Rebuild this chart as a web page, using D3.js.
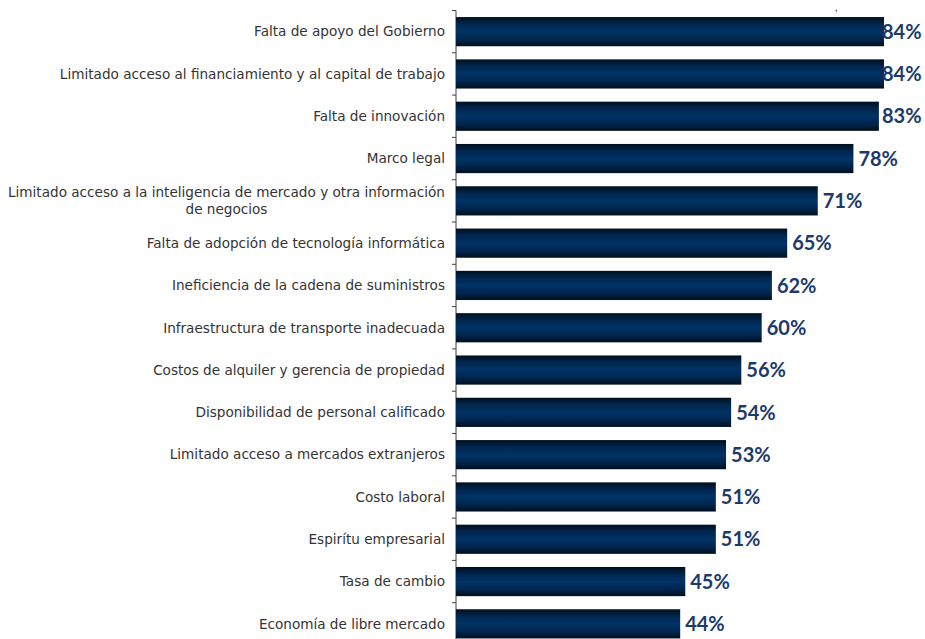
<!DOCTYPE html>
<html>
<head>
<meta charset="utf-8">
<script src="https://cdn.jsdelivr.net/npm/d3@7"></script>
<style>
  body { margin: 0; background: white; }
  svg { display: block; }
</style>
</head>
<body>
<svg id="plot"></svg>
<script>
// Data
const categories = [
  "Falta de apoyo del Gobierno",
  "Limitado acceso al financiamiento y al capital de trabajo",
  "Falta de innovación",
  "Marco legal",
  "Limitado acceso a la inteligencia de mercado y otra información|de negocios",
  "Falta de adopción de tecnología informática",
  "Ineficiencia de la cadena de suministros",
  "Infraestructura de transporte inadecuada",
  "Costos de alquiler y gerencia de propiedad",
  "Disponibilidad de personal calificado",
  "Limitado acceso a mercados extranjeros",
  "Costo laboral",
  "Espirítu empresarial",
  "Tasa de cambio",
  "Economía de libre mercado"
];
const values = [84, 84, 83, 78, 71, 65, 62, 60, 56, 54, 53, 51, 51, 45, 44];

const data = categories.map((c, i) => ({ cat: c, value: values[i] }));

let width = 925, height = 639;
let margin = { top: 10.5, left: 456, right: 0 };

let svg = d3.select('#plot')
  .attr('width', width)
  .attr('height', height)
  .style('background', 'white');

// gradient for the bars (dark edges, lighter middle)
let grad = svg.append('defs').append('linearGradient')
  .attr('id', 'barGrad')
  .attr('x1', 0).attr('y1', 0).attr('x2', 0).attr('y2', 1);
grad.append('stop').attr('offset', '0%').attr('stop-color', '#00101f');
grad.append('stop').attr('offset', '25%').attr('stop-color', '#01264f');
grad.append('stop').attr('offset', '50%').attr('stop-color', '#003366');
grad.append('stop').attr('offset', '75%').attr('stop-color', '#01264f');
grad.append('stop').attr('offset', '100%').attr('stop-color', '#00101f');

let step = 42.3;
let yScale = d3.scaleBand()
  .domain(categories)
  .range([margin.top, margin.top + step * categories.length])
  .paddingInner(0.31)
  .paddingOuter(0.155);

let xScale = d3.scaleLinear()
  .domain([0, 100])
  .range([margin.left, margin.left + 509.5]);

// axis line with ticks at band boundaries
let yAxis = svg.append('g');
yAxis.append('line')
  .attr('x1', margin.left).attr('x2', margin.left)
  .attr('y1', margin.top).attr('y2', height)
  .attr('stroke', '#404040').attr('stroke-width', 1);
yAxis.selectAll('.tick')
  .data(d3.range(categories.length + 1))
  .enter()
  .append('line')
  .attr('x1', margin.left - 4).attr('x2', margin.left)
  .attr('y1', i => margin.top + i * step)
  .attr('y2', i => margin.top + i * step)
  .attr('stroke', '#404040').attr('stroke-width', 1);

// bars
svg.selectAll('rect.bar')
  .data(data)
  .enter()
  .append('rect')
  .attr('class', 'bar')
  .attr('x', xScale(0))
  .attr('y', d => yScale(d.cat))
  .attr('width', d => xScale(d.value) - xScale(0))
  .attr('height', yScale.bandwidth())
  .attr('fill', 'url(#barGrad)');

// category labels
let labels = svg.selectAll('text.cat')
  .data(data)
  .enter()
  .append('text')
  .attr('class', 'cat')
  .style('font-family', 'DejaVu Sans, sans-serif')
  .style('font-size', '13.6px')
  .attr('fill', '#333333');

labels.each(function(d) {
  let lines = d.cat.split('|');
  let t = d3.select(this);
  let cy = yScale(d.cat) + yScale.bandwidth() / 2;
  if (lines.length === 1) {
    t.attr('x', 445).attr('y', cy).attr('dy', '0.35em')
      .attr('text-anchor', 'end').text(lines[0]);
  } else {
    let ts = t.append('tspan').text(lines[0]);
    let w = this.getComputedTextLength();
    let cx = 445 - w / 2;
    t.attr('text-anchor', 'middle');
    ts.attr('x', cx).attr('y', cy - 8.5).attr('dy', '0.35em');
    t.append('tspan').attr('x', cx).attr('y', cy + 8.5).attr('dy', '0.35em').text(lines[1]);
  }
});

// value labels
svg.selectAll('text.val')
  .data(data)
  .enter()
  .append('text')
  .attr('class', 'val')
  .attr('x', d => Math.min(xScale(d.value) + 5, width - 43))
  .attr('y', d => yScale(d.cat) + yScale.bandwidth() / 2)
  .attr('dy', '0.36em')
  .style('font-family', 'Lato, sans-serif')
  .style('font-weight', 'bold')
  .style('font-size', '20px')
  .attr('fill', '#1c3a6a')
  .text(d => d.value + '%');

// title fragment at the top
svg.append('text')
  .attr('x', 835).attr('y', 11)
  .style('font-family', 'Lato, sans-serif')
  .style('font-size', '11px')
  .attr('fill', '#262626')
  .text(',');
</script>
</body>
</html>
